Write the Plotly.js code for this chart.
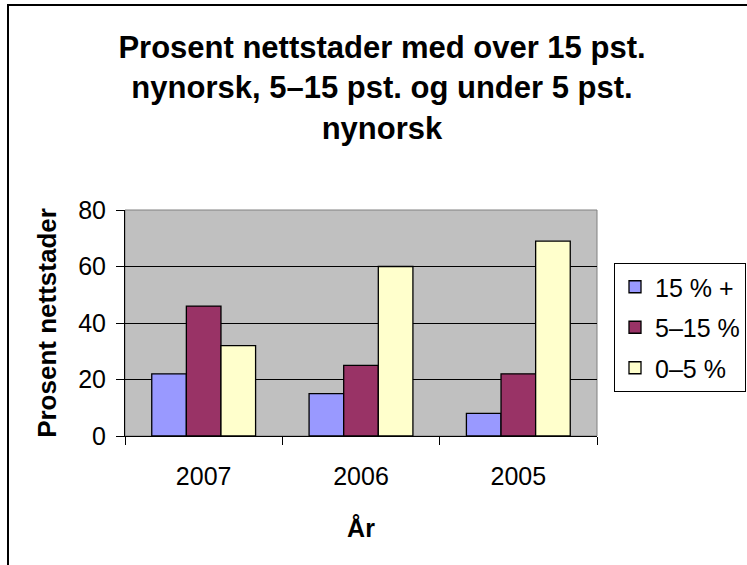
<!DOCTYPE html>
<html>
<head>
<meta charset="utf-8">
<script src="https://cdn.plot.ly/plotly-3.0.1.min.js"></script>
<style>
  body { margin: 0; background: #fff; overflow: hidden; }
  #Graph { position: absolute; left: 0; top: 0; width: 747px; height: 565px; }
  #frame { position: absolute; left: 7px; top: 4px; width: 800px; height: 700px;
           border: 2px solid #000; pointer-events: none; }
</style>
</head>
<body>
<div id="Graph"></div>
<div id="frame"></div>
<script>
var years = ['2007', '2006', '2005'];
var names = ['15 % +', '5\u201315 %', '0\u20135 %'];
var over15 = [22, 46, 32];
var mid = [15, 25, 60];
var under5 = [8, 22, 69];
// values above are per year; reorganise to per series
var sOver15 = [over15[0], mid[0], under5[0]];
var sMid = [over15[1], mid[1], under5[1]];
var sUnder5 = [over15[2], mid[2], under5[2]];
var colors = ['#9999FF', '#993366', '#FFFFCC'];

var font = 'Arial, "Liberation Sans", sans-serif';

function makeTrace(vals, i) {
  return {
    type: 'bar',
    x: years,
    y: vals,
    name: names[i],
    legendgroup: 'g' + i,
    marker: { color: colors[i], line: { color: '#000', width: 1.3 } },
    hoverinfo: 'y'
  };
}

var data = [makeTrace(sOver15, 0), makeTrace(sMid, 1), makeTrace(sUnder5, 2)];

var layout = {
  width: 747,
  height: 565,
  margin: { l: 125, r: 150, t: 210, b: 129 },
  paper_bgcolor: '#fff',
  plot_bgcolor: '#C0C0C0',
  font: { family: font, size: 25, color: '#000' },
  title: {
    text: 'Prosent nettstader med over 15 pst.<br>nynorsk, 5\u201315 pst. og under 5 pst.<br>nynorsk',
    font: { family: font, size: 31, weight: 'bold', color: '#000' },
    x: 382 / 747, xanchor: 'center', xref: 'container',
    y: 1 - 58 / 565, yanchor: 'top', yref: 'container'
  },
  barmode: 'group',
  bargap: 0.34,
  bargroupgap: 0,
  showlegend: true,
  legend: {
    xref: 'container', yref: 'container',
    x: 614 / 747, xanchor: 'left',
    y: 1 - 263 / 565, yanchor: 'top',
    bordercolor: '#000', borderwidth: 1, bgcolor: '#fff',
    font: { family: font, size: 25 },
    tracegroupgap: 5
  },
  xaxis: {
    type: 'category',
    showline: true, linecolor: '#000', linewidth: 1,
    ticks: 'outside', tickson: 'boundaries', ticklen: 8, tickcolor: '#000',
    ticklabelstandoff: 18,
    showgrid: false,
    tickfont: { family: font, size: 25 },
    title: { text: 'År', font: { family: font, size: 25, weight: 'bold' }, standoff: 30 }
  },
  yaxis: {
    range: [0, 80],
    tickvals: [0, 20, 40, 60, 80],
    showline: true, linecolor: '#000', linewidth: 1,
    ticks: 'outside', ticklen: 8, tickcolor: '#000',
    ticklabelstandoff: 5,
    showgrid: true, gridcolor: '#000', gridwidth: 1,
    zeroline: false,
    tickfont: { family: font, size: 25 },
    title: { text: 'Prosent nettstader', font: { family: font, size: 26, weight: 'bold' }, standoff: 14 }
  },
  shapes: [{
    type: 'rect', xref: 'paper', yref: 'paper', x0: 0, x1: 1, y0: 0, y1: 1,
    line: { color: '#808080', width: 1 }, layer: 'below'
  }]
};

Plotly.newPlot('Graph', data, layout, { displayModeBar: false, staticPlot: true });
</script>
</body>
</html>
